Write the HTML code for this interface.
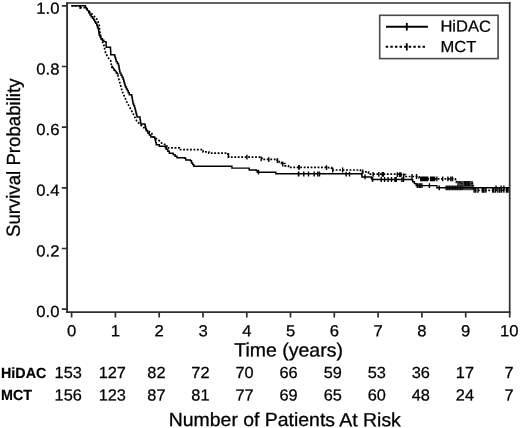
<!DOCTYPE html>
<html lang="en">
<head>
<meta charset="utf-8">
<title>Survival Probability</title>
<style>
html,body{margin:0;padding:0;background:#fff;}
body{width:520px;height:428px;overflow:hidden;}
svg{display:block;font-family:"Liberation Sans",sans-serif;fill:#000;}
</style>
</head>
<body>
<svg width="520" height="428" viewBox="0 0 520 428">
<rect x="0" y="0" width="520" height="428" fill="#fff" stroke="none"/>
<path d="M67.1,2.25V313.10" stroke="#2e2e2e" stroke-width="1.9" fill="none"/>
<path d="M66.20,312.2H510.50" stroke="#2e2e2e" stroke-width="1.8" fill="none"/>
<path d="M509.7,2.25V317.40" stroke="#2e2e2e" stroke-width="1.7" fill="none"/>
<path d="M66.20,2.95H510.50" stroke="#2e2e2e" stroke-width="1.4" fill="none"/>
<path d="M61.8,309.1H67.1M61.8,248.5H67.1M61.8,187.8H67.1M61.8,127.2H67.1M61.8,66.5H67.1M61.8,5.9H67.1M71.6,312.2V317.4M115.4,312.2V317.4M159.2,312.2V317.4M203.0,312.2V317.4M246.8,312.2V317.4M290.5,312.2V317.4M334.3,312.2V317.4M378.1,312.2V317.4M421.9,312.2V317.4M465.7,312.2V317.4" stroke="#2e2e2e" stroke-width="1.7" fill="none"/>
<path d="M71.4,5.8H84.5H85.4V7.4H86.4V9.0H87.3V10.6H88.7V12.8H90.0V15.0H91.2V16.7H92.5V18.3H93.7V20.0H94.7V21.7H95.7V23.3H96.7V25.0H97.3V26.7H97.9V28.3H98.5V30.0H98.7V31.7H99.0V33.3H99.2V35.0H100.1V36.9H101.0V38.8H102.4V40.2H103.8V41.6H106.0V42.5H106.1V44.1H106.1V45.7H106.2V47.3H110.4H110.5V49.1H110.6V51.0H110.7V52.9H110.8V54.7H114.6V55.9H115.1V57.8H115.7V59.7H116.2V61.6H117.3V63.5H118.5V65.4H118.9V67.3H119.2V69.2H119.6V71.2H120.0V73.1H121.0V75.2H122.1V77.2H123.1V79.3H123.7V81.2H124.2V83.2H124.8V85.1H125.4V87.0H126.4V88.9H127.4V90.8H128.3V92.8H129.3V94.7H131.6V95.5H131.9V97.2H132.2V98.9H132.5V100.6H132.8V102.3H133.1V104.0H133.8V105.8H134.6V107.7H135.1V109.6H135.6V111.4H136.0V113.3H136.5V115.1H137.0V117.0H140.0V119.3H140.3V120.8H140.5V122.4H140.8V123.9H144.7V124.7H145.2V126.7H145.7V128.8H146.2V130.8H147.7V132.9H149.3V134.9H150.8V137.0H154.7V138.5H155.2V140.6H155.7V142.6H156.2V144.7H159.3V146.2H164.7H165.4V147.8H166.2V149.3H167.8V151.2H169.3V153.2H173.2V154.7H175.1V156.2H177.0V157.8H184.6V158.2H185.8V160.0H190.4V160.7H191.5V163.0H192.7V164.6H193.8V166.2H230.8H231.9V168.1H248.1H249.2V169.9H256.2V170.4H257.3V172.2H274.6H275.8V173.8H300.0H361.5V174.2H361.8V175.6H362.0V176.9H370.8H371.4V178.2H371.9V179.5H411.5V179.8H412.7V181.7H414.4V183.6H416.2V185.6H435.8H436.9V187.8H509.2" stroke="#000" stroke-width="1.45" fill="none" stroke-linejoin="miter"/>
<path d="M71.4,5.8L80.5,5.8L80.6,7.7L86.0,7.7L90.2,12.5L94.0,16.0L97.6,20.0L99.3,26.0L100.0,33.0L101.8,41.0L103.6,43.8L104.9,50.0L105.6,53.0L107.6,57.0L110.8,60.8L111.6,67.0L117.7,74.7L119.3,80.8L122.3,91.6L127.0,102.4L130.8,109.2L137.0,121.6L143.1,127.0L147.7,130.8L151.6,133.1L153.1,137.0L157.8,139.3L161.6,143.1L165.5,144.7H166.2V146.2H167.0V147.8H177.8H179.3V149.6H200.8H203.1V151.9H208.8V153.1H227.3H227.9V155.1H228.5V157.2H259.6H261.9V159.3H276.9V160.0H279.2V162.3H281.5V163.5H285.0V165.8H288.5V167.4H326.9V167.7H331.5V170.0H356.9H360.4V171.8H363.8H368.5V174.2H400.8V174.6H405.4V176.5H411.5H417.0V176.8H419.0V178.8H454.2H455.4V180.6H456.5V182.3H460.0V183.5H472.6V183.8H473.0V185.5H473.3V187.1H473.6V188.8H474.0V190.4H509.2" stroke="#000" stroke-width="1.7" fill="none" stroke-dasharray="1.85 1.61"/>
<path d="M258.5,169.8V174.6M298.8,171.4V176.2M298.5,171.6V176.4M303.8,171.6V176.4M308.5,171.6V176.4M314.2,171.6V176.4M317.7,171.6V176.4M319.5,171.6V176.4M346.1,171.7V176.5M349.5,171.7V176.5M365.0,174.5V179.3M372.6,177.1V181.9M381.2,177.1V181.9M384.6,177.1V181.9M388.1,177.1V181.9M391.5,177.1V181.9M395.0,177.1V181.9M396.2,177.1V181.9M401.9,177.2V182.0M403.5,177.2V182.0M417.3,183.2V188.0M419.0,183.2V188.0M420.2,183.2V188.0M421.9,183.2V188.0M429.4,183.2V188.0M439.2,185.4V190.2M446.2,185.4V190.2M447.8,185.4V190.2M449.4,185.4V190.2M451.0,185.4V190.2M452.6,185.4V190.2M454.2,185.4V190.2M455.8,185.4V190.2M457.4,185.4V190.2M459.0,185.4V190.2M460.6,185.4V190.2M462.2,185.4V190.2M464.0,185.4V190.2M466.0,185.4V190.2M468.0,185.4V190.2M470.0,185.4V190.2M472.0,185.4V190.2M496.0,185.4V190.2M501.1,185.4V190.2M503.9,185.4V190.2" stroke="#000" stroke-width="1.4" fill="none"/>
<path d="M228.5,153.1V157.9M246.9,154.8V159.6M261.2,156.4V161.2M268.8,157.2V162.0M277.4,158.1V162.9M282.7,161.8V166.6M298.8,165.0V169.8M299.2,165.0V169.8M326.5,165.3V170.1M332.7,167.6V172.4M342.6,167.6V172.4M362.7,169.4V174.2M373.1,171.9V176.7M378.8,172.0V176.8M382.3,172.0V176.8M383.5,172.0V176.8M397.3,172.2V177.0M399.6,172.2V177.0M400.8,172.2V177.0M403.5,173.4V178.2M412.0,174.1V178.9M416.5,174.1V178.9M420.8,176.4V181.2M421.8,176.4V181.2M422.8,176.4V181.2M423.8,176.4V181.2M424.8,176.4V181.2M425.8,176.4V181.2M426.8,176.4V181.2M427.7,176.4V181.2M430.6,176.4V181.2M431.6,176.4V181.2M432.6,176.4V181.2M433.6,176.4V181.2M434.6,176.4V181.2M436.9,176.4V181.2M442.7,176.4V181.2M447.9,176.4V181.2M450.8,176.4V181.2M452.5,176.4V181.2M458.0,181.1V185.9M460.0,181.1V185.9M462.0,181.1V185.9M464.0,181.1V185.9M465.5,181.1V185.9M467.0,181.1V185.9M468.5,181.1V185.9M470.0,181.1V185.9M472.0,181.1V185.9M474.1,188.0V192.8M475.7,188.0V192.8M478.0,188.0V192.8M482.4,188.0V192.8M483.2,188.0V192.8M484.0,188.0V192.8M485.9,188.0V192.8M492.8,188.0V192.8M493.7,188.0V192.8M495.5,188.0V192.8M497.9,188.0V192.8M499.7,188.0V192.8M501.5,188.0V192.8M503.9,188.0V192.8M506.6,188.0V192.8M508.0,188.0V192.8" stroke="#000" stroke-width="1.4" fill="none"/>
<path d="M80.2,6V8.9" stroke="#000" stroke-width="1.5" fill="none"/>
<path d="M111.6,65.8L118.4,74.6" stroke="#000" stroke-width="1.5" fill="none"/>
<rect x="379.7" y="15.3" width="118.4" height="43.3" fill="#fff" stroke="#4a4a4a" stroke-width="1.6"/>
<path d="M386,26.85H427.9" stroke="#000" stroke-width="2" fill="none"/><path d="M406.8,22.9V30.6" stroke="#000" stroke-width="1.8" fill="none"/>
<path d="M385.7,46.8H427" stroke="#000" stroke-width="2" fill="none" stroke-dasharray="2.5 2.1"/>
<path d="M406.8,43.2V50.5" stroke="#000" stroke-width="1.8" fill="none"/>
<text transform="translate(440.4,31.6) rotate(0.04) scale(1.035,1)" font-size="16" text-anchor="start" stroke="#000" stroke-width="0.25">HiDAC</text>
<text transform="translate(440.4,51.9) rotate(0.04) scale(1.035,1)" font-size="16" text-anchor="start" stroke="#000" stroke-width="0.25">MCT</text>
<text transform="translate(59.5,317.0) rotate(0.04) scale(1.04,1)" font-size="16" text-anchor="end" stroke="#000" stroke-width="0.25">0.0</text>
<text transform="translate(59.5,256.4) rotate(0.04) scale(1.04,1)" font-size="16" text-anchor="end" stroke="#000" stroke-width="0.25">0.2</text>
<text transform="translate(59.5,195.7) rotate(0.04) scale(1.04,1)" font-size="16" text-anchor="end" stroke="#000" stroke-width="0.25">0.4</text>
<text transform="translate(59.5,135.1) rotate(0.04) scale(1.04,1)" font-size="16" text-anchor="end" stroke="#000" stroke-width="0.25">0.6</text>
<text transform="translate(59.5,74.4) rotate(0.04) scale(1.04,1)" font-size="16" text-anchor="end" stroke="#000" stroke-width="0.25">0.8</text>
<text transform="translate(59.5,13.8) rotate(0.04) scale(1.04,1)" font-size="16" text-anchor="end" stroke="#000" stroke-width="0.25">1.0</text>
<text transform="translate(71.6,336.2) rotate(0.04) scale(1.04,1)" font-size="16" text-anchor="middle" stroke="#000" stroke-width="0.25">0</text>
<text transform="translate(115.4,336.2) rotate(0.04) scale(1.04,1)" font-size="16" text-anchor="middle" stroke="#000" stroke-width="0.25">1</text>
<text transform="translate(159.2,336.2) rotate(0.04) scale(1.04,1)" font-size="16" text-anchor="middle" stroke="#000" stroke-width="0.25">2</text>
<text transform="translate(203.0,336.2) rotate(0.04) scale(1.04,1)" font-size="16" text-anchor="middle" stroke="#000" stroke-width="0.25">3</text>
<text transform="translate(246.8,336.2) rotate(0.04) scale(1.04,1)" font-size="16" text-anchor="middle" stroke="#000" stroke-width="0.25">4</text>
<text transform="translate(290.5,336.2) rotate(0.04) scale(1.04,1)" font-size="16" text-anchor="middle" stroke="#000" stroke-width="0.25">5</text>
<text transform="translate(334.3,336.2) rotate(0.04) scale(1.04,1)" font-size="16" text-anchor="middle" stroke="#000" stroke-width="0.25">6</text>
<text transform="translate(378.1,336.2) rotate(0.04) scale(1.04,1)" font-size="16" text-anchor="middle" stroke="#000" stroke-width="0.25">7</text>
<text transform="translate(421.9,336.2) rotate(0.04) scale(1.04,1)" font-size="16" text-anchor="middle" stroke="#000" stroke-width="0.25">8</text>
<text transform="translate(465.7,336.2) rotate(0.04) scale(1.04,1)" font-size="16" text-anchor="middle" stroke="#000" stroke-width="0.25">9</text>
<text transform="translate(509.3,336.2) rotate(0.04) scale(1.04,1)" font-size="16" text-anchor="middle" stroke="#000" stroke-width="0.25">10</text>
<text transform="translate(288.6,356.4) rotate(0.04) scale(1.026,1)" font-size="19" text-anchor="middle" stroke="#000" stroke-width="0.3">Time (years)</text>
<text transform="translate(284.8,426.1) rotate(0.04) scale(1.0224,1)" font-size="19" text-anchor="middle" stroke="#000" stroke-width="0.3">Number of Patients At Risk</text>
<text transform="translate(19.9,157.8) rotate(-89.96) scale(0.982,1)" font-size="19" text-anchor="middle" stroke="#000" stroke-width="0.3">Survival Probability</text>
<text transform="translate(1.0,377.9) rotate(0.04) scale(0.975,1)" font-size="14.7" text-anchor="start" font-weight="bold" stroke="#000" stroke-width="0.2">HiDAC</text>
<text transform="translate(1.0,399.9) rotate(0.04) scale(0.975,1)" font-size="14.7" text-anchor="start" font-weight="bold" stroke="#000" stroke-width="0.2">MCT</text>
<text transform="translate(68.2,377.9) rotate(0.04) scale(1.02,1)" font-size="16" text-anchor="middle" stroke="#000" stroke-width="0.25">153</text>
<text transform="translate(68.2,400.4) rotate(0.04) scale(1.02,1)" font-size="16" text-anchor="middle" stroke="#000" stroke-width="0.25">156</text>
<text transform="translate(112.3,377.9) rotate(0.04) scale(1.02,1)" font-size="16" text-anchor="middle" stroke="#000" stroke-width="0.25">127</text>
<text transform="translate(112.3,400.4) rotate(0.04) scale(1.02,1)" font-size="16" text-anchor="middle" stroke="#000" stroke-width="0.25">123</text>
<text transform="translate(156.4,377.9) rotate(0.04) scale(1.02,1)" font-size="16" text-anchor="middle" stroke="#000" stroke-width="0.25">82</text>
<text transform="translate(156.4,400.4) rotate(0.04) scale(1.02,1)" font-size="16" text-anchor="middle" stroke="#000" stroke-width="0.25">87</text>
<text transform="translate(200.4,377.9) rotate(0.04) scale(1.02,1)" font-size="16" text-anchor="middle" stroke="#000" stroke-width="0.25">72</text>
<text transform="translate(200.4,400.4) rotate(0.04) scale(1.02,1)" font-size="16" text-anchor="middle" stroke="#000" stroke-width="0.25">81</text>
<text transform="translate(244.5,377.9) rotate(0.04) scale(1.02,1)" font-size="16" text-anchor="middle" stroke="#000" stroke-width="0.25">70</text>
<text transform="translate(244.5,400.4) rotate(0.04) scale(1.02,1)" font-size="16" text-anchor="middle" stroke="#000" stroke-width="0.25">77</text>
<text transform="translate(288.6,377.9) rotate(0.04) scale(1.02,1)" font-size="16" text-anchor="middle" stroke="#000" stroke-width="0.25">66</text>
<text transform="translate(288.6,400.4) rotate(0.04) scale(1.02,1)" font-size="16" text-anchor="middle" stroke="#000" stroke-width="0.25">69</text>
<text transform="translate(332.7,377.9) rotate(0.04) scale(1.02,1)" font-size="16" text-anchor="middle" stroke="#000" stroke-width="0.25">59</text>
<text transform="translate(332.7,400.4) rotate(0.04) scale(1.02,1)" font-size="16" text-anchor="middle" stroke="#000" stroke-width="0.25">65</text>
<text transform="translate(376.8,377.9) rotate(0.04) scale(1.02,1)" font-size="16" text-anchor="middle" stroke="#000" stroke-width="0.25">53</text>
<text transform="translate(376.8,400.4) rotate(0.04) scale(1.02,1)" font-size="16" text-anchor="middle" stroke="#000" stroke-width="0.25">60</text>
<text transform="translate(420.8,377.9) rotate(0.04) scale(1.02,1)" font-size="16" text-anchor="middle" stroke="#000" stroke-width="0.25">36</text>
<text transform="translate(420.8,400.4) rotate(0.04) scale(1.02,1)" font-size="16" text-anchor="middle" stroke="#000" stroke-width="0.25">48</text>
<text transform="translate(464.9,377.9) rotate(0.04) scale(1.02,1)" font-size="16" text-anchor="middle" stroke="#000" stroke-width="0.25">17</text>
<text transform="translate(464.9,400.4) rotate(0.04) scale(1.02,1)" font-size="16" text-anchor="middle" stroke="#000" stroke-width="0.25">24</text>
<text transform="translate(509.0,377.9) rotate(0.04) scale(1.02,1)" font-size="16" text-anchor="middle" stroke="#000" stroke-width="0.25">7</text>
<text transform="translate(509.0,400.4) rotate(0.04) scale(1.02,1)" font-size="16" text-anchor="middle" stroke="#000" stroke-width="0.25">7</text>
</svg>
</body>
</html>
